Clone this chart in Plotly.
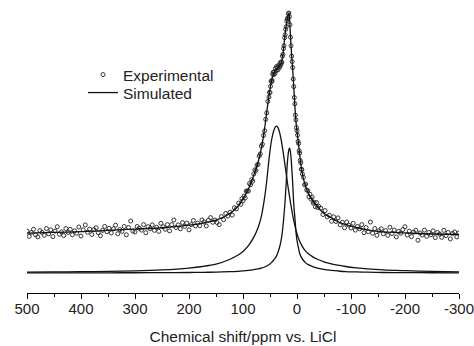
import plotly.graph_objects as go

# ---------------- data ----------------
# Experimental points: chemical shift (ppm) grid and intensity (arb. units)
exp_ppm = (list(range(500, 103, -4)) + list(range(102, 51, -2)) +
           list(range(51, -11, -1)) + list(range(-12, -41, -2)) +
           list(range(-44, -301, -4)))

exp_int = [
    # 500 .. 104 (step 4)
    16.1, 14.1, 15.6, 16.8, 14.7, 13.9, 16.3, 15.6, 14.5, 17.1,
    15.1, 16.6, 14.0, 16.1, 17.8, 14.9, 15.8, 14.4, 17.1, 15.6,
    16.8, 14.7, 16.2, 15.3, 17.7, 14.2, 16.6, 18.5, 15.7, 16.9,
    14.8, 16.7, 17.4, 15.5, 14.3, 16.4, 17.9, 15.9, 17.2, 15.4,
    17.0, 18.4, 15.1, 16.7, 16.0, 17.9, 14.7, 17.5, 20.0, 16.1,
    15.8, 17.9, 17.2, 16.5, 18.6, 15.5, 17.8, 17.0, 18.5, 16.4,
    17.6, 16.0, 19.1, 17.8, 16.8, 18.6, 16.2, 18.6, 20.4, 17.5,
    18.5, 17.0, 19.4, 17.9, 19.2, 16.6, 18.6, 20.2, 18.1, 19.2,
    18.2, 20.4, 19.6, 18.1, 20.3, 21.3, 19.5, 20.4, 19.4, 18.6,
    21.7, 20.5, 22.9, 21.9, 23.4, 22.3, 25.1, 24.7, 26.9, 26.4,
    # 102 .. 52 (step 2)
    28.6, 27.8, 29.6, 28.9, 31.5, 31.6, 31.5, 34.4, 33.9, 35.9,
    35.3, 38.1, 39.7, 39.4, 41.5, 41.8, 45.0, 45.8, 48.8, 49.5,
    52.9, 54.7, 59.1, 61.6, 66.0, 67.7,
    # 51 .. -10 (step 1)
    69.5, 69.4, 71.8, 73.8, 73.6, 74.1, 76.4, 77.2, 76.3, 77.4,
    76.7, 78.7, 77.8, 79.4, 78.0, 79.1, 78.2, 79.9, 79.6, 79.2,
    80.9, 80.0, 81.2, 81.0, 83.4, 84.1, 86.3, 87.4, 90.5, 91.6,
    93.7, 94.7, 96.9, 97.7, 98.2, 99.8, 100.0, 98.6, 95.5, 90.7,
    87.4, 83.4, 81.3, 79.0, 74.6, 71.7, 67.5, 65.1, 60.7, 58.9,
    55.9, 54.7, 53.0, 50.6, 49.8, 47.0, 46.1, 43.3, 42.4, 39.9,
    39.8, 38.1,
    # -12 .. -40 (step 2)
    36.8, 33.9, 34.2, 31.9, 31.7, 29.3, 30.3, 28.4, 29.2, 26.9,
    27.2, 25.5, 27.1, 25.2, 25.7,
    # -44 .. -300 (step 4)
    24.9, 22.5, 24.0, 21.6, 22.2, 19.9, 21.6, 19.8, 21.2, 18.5,
    19.5, 17.4, 19.6, 18.4, 17.3, 19.1, 16.5, 17.9, 17.0, 18.6,
    15.5, 17.5, 15.9, 19.6, 15.3, 17.1, 14.5, 16.2, 17.0, 15.1,
    16.3, 14.5, 17.6, 15.2, 16.5, 13.9, 16.0, 15.3, 16.7, 17.8,
    14.6, 16.1, 14.0, 15.7, 16.4, 12.6, 15.4, 14.6, 16.5, 14.1,
    15.6, 14.7, 16.2, 13.6, 15.6, 15.0, 13.7, 16.4, 14.4, 15.6,
    13.1, 15.2, 15.8, 13.9, 15.4,
]

# Simulated curves sampled at these shifts
sim_ppm = [500, 450, 400, 350, 300, 250, 200, 175, 150, 125, 110, 100, 90, 80,
           72, 66, 60, 56, 52, 48, 45, 42, 40, 38, 36, 34, 32, 30, 28, 26, 24,
           22, 20, 18, 16, 15, 14, 13, 12, 11, 10, 8, 6, 4, 2, 0, -2, -5, -8,
           -12, -16, -20, -25, -30, -40, -50, -60, -75, -90, -110, -130, -160,
           -200, -250, -300]

# total simulated spectrum (drawn through the experimental points)
sim_total = [15.3, 15.6, 15.9, 16.4, 16.9, 17.4, 18.4, 19.2, 20.3, 22.8, 25.5,
             28.5, 32.3, 37.6, 42.7, 48.0, 55.5, 62.0, 68.0, 73.0, 75.8, 77.0,
             77.8, 78.2, 78.8, 79.3, 79.8, 80.3, 81.5, 84.3, 88.0, 92.0, 95.0,
             97.5, 99.5, 100.0, 99.0, 95.0, 91.0, 87.0, 84.0, 78.5, 71.5, 64.5,
             58.5, 54.5, 51.0, 45.5, 40.5, 36.2, 33.3, 31.2, 29.1, 27.5, 25.0,
             22.9, 21.6, 19.8, 18.6, 17.5, 16.6, 15.8, 15.4, 15.0, 14.8]

# broad component (~38 ppm)
sim_broad = [0.3, 0.4, 0.5, 0.6, 0.8, 1.2, 1.9, 2.5, 3.4, 5.2, 6.8, 8.3, 10.5,
             13.8, 17.5, 21.8, 29.0, 35.5, 43.5, 50.0, 53.2, 55.4, 56.2, 56.5,
             56.2, 55.3, 53.9, 52.0, 49.7, 47.0, 44.2, 41.2, 38.2, 35.2, 32.3,
             31.0, 29.6, 28.3, 27.0, 25.8, 24.6, 22.3, 20.2, 18.3, 16.6, 15.1,
             13.8, 12.2, 10.9, 9.5, 8.4, 7.6, 6.8, 6.1, 5.1, 4.3, 3.7, 3.0, 2.5,
             2.0, 1.6, 1.2, 0.9, 0.6, 0.4]

# narrow component (~14 ppm)
sim_narrow = [0.05, 0.05, 0.06, 0.08, 0.1, 0.13, 0.2, 0.25, 0.35, 0.5, 0.65,
              0.8, 1.0, 1.3, 1.6, 1.9, 2.3, 2.7, 3.2, 3.9, 4.5, 5.3, 5.8, 6.5,
              7.5, 8.7, 10.2, 12.0, 14.5, 18.0, 22.5, 28.0, 34.5, 42.0, 46.3,
              47.5, 48.0, 47.6, 46.2, 44.3, 41.5, 34.5, 26.5, 21.5, 16.0, 12.5,
              10.3, 7.5, 6.0, 4.8, 3.9, 3.3, 2.8, 2.4, 1.8, 1.4, 1.1, 0.8, 0.55,
              0.4, 0.3, 0.2, 0.15, 0.1, 0.08]

x_ticks = [500, 400, 300, 200, 100, 0, -100, -200, -300]
x_tick_labels = ["500", "400", "300", "200", "100", "0", "-100", "-200", "-300"]
x_title = "Chemical shift/ppm vs. LiCl"

assert len(exp_ppm) == len(exp_int)
assert len(sim_ppm) == len(sim_total) == len(sim_broad) == len(sim_narrow)

# ---------------- figure ----------------
FONT = "Liberation Sans, Arial, sans-serif"
INK = "#222222"

fig = go.Figure()
fig.add_trace(go.Scatter(
    x=exp_ppm, y=exp_int, mode="markers", name="Experimental",
    legend="legend",
    marker=dict(symbol="circle-open", size=4, color="#333333",
                line=dict(width=1, color="#333333")),
))
fig.add_trace(go.Scatter(
    x=sim_ppm, y=sim_total, mode="lines", name="Simulated",
    legend="legend2",
    line=dict(color="#111111", width=1.3, shape="spline", smoothing=0.6),
))
for comp in (sim_broad, sim_narrow):
    fig.add_trace(go.Scatter(
        x=sim_ppm, y=comp, mode="lines", showlegend=False,
        line=dict(color="#111111", width=1.3, shape="spline", smoothing=0.8),
    ))

# figure fills the whole page (body margin removed below)
W, H = 474, 346
L, R, T, B = 27, 15, 5, 53
PW, PH = W - L - R, H - T - B


def lx(px):  # page pixel -> paper x
    return (px - L) / PW


def ly(py):  # page pixel -> paper y
    return 1 - (py - T) / PH


leg_common = dict(xanchor="left", yanchor="middle", bgcolor="rgba(0,0,0,0)",
                  font=dict(size=15.5, color=INK), itemwidth=30,
                  borderwidth=0)

fig.update_layout(
    width=W, height=H,
    margin=dict(l=L, r=R, t=T, b=B),
    paper_bgcolor="white", plot_bgcolor="white",
    font=dict(family=FONT, size=15, color=INK),
    showlegend=True,
    hovermode=False,
    legend=dict(x=lx(83), y=ly(75), **leg_common),
    legend2=dict(x=lx(83), y=ly(93), **leg_common),
    xaxis=dict(
        range=[500, -300], tickvals=x_ticks, ticktext=x_tick_labels,
        showline=True, linecolor="black", linewidth=1.3,
        ticks="outside", ticklen=5, tickwidth=1.2, tickcolor="black",
        minor=dict(dtick=50, tick0=0, ticks="outside", ticklen=3,
                   tickwidth=1.2, tickcolor="black"),
        showgrid=False, zeroline=False, automargin=False,
        ticklabelstandoff=-3, ticklabeloverflow="allow",
        tickfont=dict(size=15, color=INK),
        title=dict(text=x_title, font=dict(size=15.5, color=INK), standoff=14),
    ),
    yaxis=dict(range=[(273 - 293) / 2.6, (273 - 5) / 2.6], visible=False,
               showgrid=False, zeroline=False),
)

fig.write_html(
    "out.html",
    config={"displayModeBar": False},
    post_script="document.body.style.margin='0';"
                "document.body.style.overflow='hidden';",
)
